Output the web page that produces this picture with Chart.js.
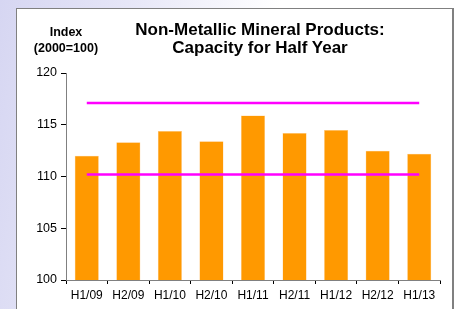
<!DOCTYPE html>
<html>
<head>
<meta charset="utf-8">
<script src="https://cdn.jsdelivr.net/npm/chart.js@4"></script>
<style>
  html, body { margin: 0; padding: 0; }
  body {
    width: 456px; height: 309px; overflow: hidden; position: relative;
    background: linear-gradient(100deg, #d6d6f2 0%, #e6e6f7 25%, #ffffff 55%);
    font-family: "Liberation Sans", Arial, sans-serif;
  }
  #box {
    position: absolute; left: 16px; top: 8px; width: 435px; height: 320px;
    background: #fff; border: 1px solid #808080; border-right: 2px solid #808080;
  }
  #wrap { position: absolute; left: 0; top: 0; width: 456px; height: 309px; }
  .t { position: absolute; font-weight: bold; text-align: center; color: #000; white-space: nowrap; }
  #title { left: 110px; width: 300px; top: 21px; font-size: 17px; line-height: 18px; }
  #index { left: 16px; width: 100px; top: 24px; font-size: 12.5px; line-height: 16px; }
</style>
</head>
<body>
<div id="box"></div>
<div id="wrap"><canvas id="myChart" width="456" height="309"></canvas></div>
<div class="t" id="title">Non-Metallic Mineral Products:<br>Capacity for Half Year</div>
<div class="t" id="index">Index<br>(2000=100)</div>
<script>
const periods = ['H1/09', 'H2/09', 'H1/10', 'H2/10', 'H1/11', 'H2/11', 'H1/12', 'H2/12', 'H1/13'];
const capacity = [112.0, 113.3, 114.4, 113.4, 115.9, 114.2, 114.5, 112.5, 112.2];
const upperLine = [117.1, 117.1, 117.1, 117.1, 117.1, 117.1, 117.1, 117.1, 117.1];
const lowerLine = [110.2, 110.2, 110.2, 110.2, 110.2, 110.2, 110.2, 110.2, 110.2];
const yTicks = [100, 105, 110, 115, 120];

function makeChart(){
  const ctx = document.getElementById('myChart');
  new Chart(ctx, {
    type: 'bar',
    data: {
      labels: periods,
      datasets: [
        {
          type: 'line',
          data: upperLine,
          borderColor: '#FF00FF',
          borderWidth: 2.5,
          pointRadius: 0,
          order: 0
        },
        {
          type: 'line',
          data: lowerLine,
          borderColor: '#FF00FF',
          borderWidth: 2.5,
          pointRadius: 0,
          order: 0
        },
        {
          data: capacity,
          backgroundColor: '#FF9900',
          borderColor: '#FFC880',
          borderWidth: 0.5,
          barPercentage: 0.58,
          categoryPercentage: 1,
          order: 1
        }
      ]
    },
    options: {
      responsive: false,
      animation: false,
      layout: { padding: { left: 30, right: 16, top: 73, bottom: 9 } },
      plugins: { legend: { display: false }, tooltip: { enabled: false } },
      scales: {
        x: {
          afterFit: (s) => { s.height = 20; },
          grid: { drawOnChartArea: false, color: '#000', tickLength: 4, offset: true },
          border: { color: '#808080', width: 1 },
          ticks: { color: '#000', font: { family: 'Liberation Sans', size: 12 }, padding: 4, maxRotation: 0 }
        },
        y: {
          min: 100,
          max: 120,
          afterFit: (s) => { s.width = 36; },
          afterBuildTicks: (s) => { s.ticks = yTicks.map(v => ({ value: v })); },
          grid: { drawOnChartArea: false, color: '#000', tickLength: 5 },
          border: { color: '#808080', width: 1 },
          ticks: { color: '#000', font: { family: 'Liberation Sans', size: 12.5 }, padding: 4 }
        }
      }
    }
  });
}

makeChart();
</script>
</body>
</html>
